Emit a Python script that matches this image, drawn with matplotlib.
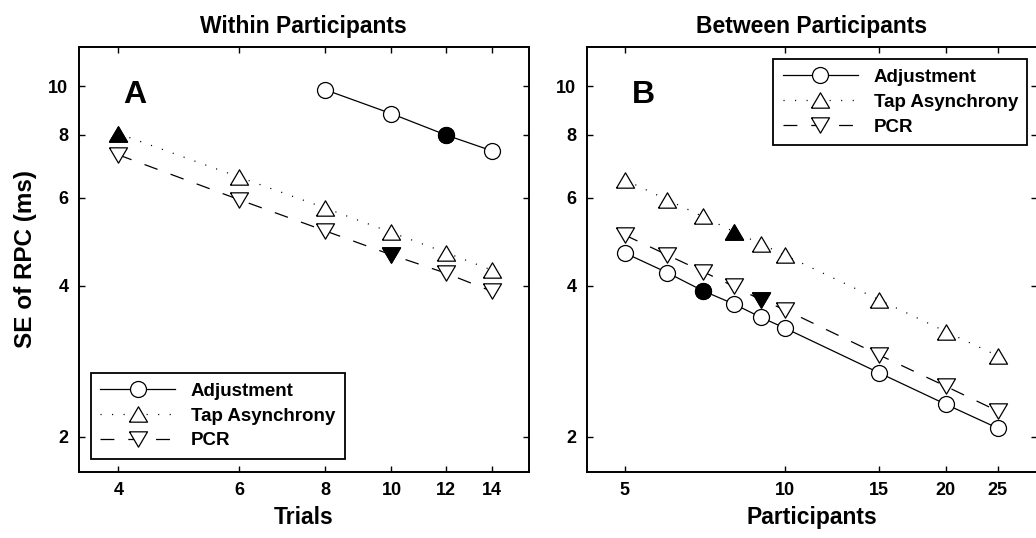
import matplotlib
matplotlib.use("Agg")
import matplotlib.pyplot as plt
from matplotlib.ticker import NullLocator, FixedLocator, FixedFormatter

plt.rcParams['font.family'] = ['Liberation Sans', 'DejaVu Sans']
plt.rcParams['lines.scale_dashes'] = False

# ---------------- data ----------------
# Panel A: Within participants (x = trials)
trials_adj = [8, 10, 12, 14]
se_adj_within = [9.85, 8.82, 8.0, 7.44]
trials_tap = [4, 6, 8, 10, 12, 14]
se_tap_within = [8.05, 6.59, 5.72, 5.11, 4.66, 4.30]
trials_pcr = [4, 6, 8, 10, 12, 14]
se_pcr_within = [7.30, 5.94, 5.15, 4.61, 4.24, 3.90]
# index of highlighted (filled) point in each series
hl_within = {"adj": 2, "tap": 0, "pcr": 3}

# Panel B: Between participants (x = participants)
participants = [5, 6, 7, 8, 9, 10, 15, 20, 25]
se_adj_between = [4.65, 4.25, 3.91, 3.68, 3.46, 3.29, 2.68, 2.32, 2.08]
se_tap_between = [6.51, 5.94, 5.50, 5.13, 4.85, 4.60, 3.75, 3.24, 2.90]
se_pcr_between = [5.05, 4.61, 4.27, 3.99, 3.75, 3.58, 2.91, 2.52, 2.25]
hl_between = {"adj": 2, "tap": 3, "pcr": 4}

series_names = ["Adjustment", "Tap Asynchrony", "PCR"]
titles = ["Within Participants", "Between Participants"]
panel_letters = ["A", "B"]
xlabels = ["Trials", "Participants"]
ylabel = "SE of RPC (ms)"
xticks_A = [4, 6, 8, 10, 12, 14]
xticks_B = [5, 10, 15, 20, 25]
yticks = [2, 4, 6, 8, 10]

# ---------------- styling ----------------
tri_up = [(-1, -0.85), (1, -0.85), (0, 0.85), (-1, -0.85)]
tri_dn = [(-1, 0.85), (1, 0.85), (0, -0.85), (-1, 0.85)]
styles = {
    "adj": dict(ls='-', marker='o', ms=11.5),
    "tap": dict(ls=(0, (0.8, 7.5)), marker=tri_up, ms=13),
    "pcr": dict(ls=(0, (10, 10)), marker=tri_dn, ms=13),
}

W, H = 1036, 538
fig = plt.figure(figsize=(W / 100, H / 100), dpi=100)
axA = fig.add_axes([78.7 / W, 1 - 472 / H, 450 / W, 425.3 / H])
axB = fig.add_axes([586.7 / W, 1 - 472 / H, 450 / W, 425.3 / H])


def draw(ax, data, hl):
    handles = []
    for key, (x, y) in data.items():
        st = styles[key]
        h, = ax.plot(x, y, color='black', lw=0.9, linestyle=st['ls'],
                     marker=st['marker'], ms=st['ms'], mfc='white',
                     mec='black', mew=0.9, zorder=3)
        i = hl[key]
        ax.plot([x[i]], [y[i]], linestyle='none', marker=st['marker'],
                ms=st['ms'], mfc='black', mec='black', mew=0.9, zorder=4)
        handles.append(h)
    return handles


hA = draw(axA, {"adj": (trials_adj, se_adj_within),
                "tap": (trials_tap, se_tap_within),
                "pcr": (trials_pcr, se_pcr_within)}, hl_within)
hB = draw(axB, {"adj": (participants, se_adj_between),
                "tap": (participants, se_tap_between),
                "pcr": (participants, se_pcr_between)}, hl_between)

for ax, xt, xl, tt, xlab, letter in [
        (axA, xticks_A, (3.5, 15.85), titles[0], xlabels[0], panel_letters[0]),
        (axB, xticks_B, (4.24, 29.6), titles[1], xlabels[1], panel_letters[1])]:
    ax.set_xscale('log')
    ax.set_yscale('log')
    ax.set_xlim(*xl)
    ax.set_ylim(1.7, 12.0)
    ax.xaxis.set_major_locator(FixedLocator(xt))
    ax.xaxis.set_major_formatter(FixedFormatter([str(v) for v in xt]))
    ax.yaxis.set_major_locator(FixedLocator(yticks))
    ax.yaxis.set_major_formatter(FixedFormatter([str(v) for v in yticks]))
    ax.xaxis.set_minor_locator(NullLocator())
    ax.yaxis.set_minor_locator(NullLocator())
    ax.tick_params(which='major', direction='in', length=4, width=1,
                   top=True, right=True, pad=7.5)
    for lab in ax.get_xticklabels() + ax.get_yticklabels():
        lab.set_fontsize(13)
        lab.set_fontweight('bold')
    for sp in ax.spines.values():
        sp.set_linewidth(1.4)
    ax.set_title(tt, fontsize=16.5, fontweight='bold', pad=10)
    ax.set_xlabel(xlab, fontsize=16.5, fontweight='bold', labelpad=5)
    ax.text(0.10, 0.868, letter, transform=ax.transAxes, fontsize=23,
            fontweight='bold', ha='left', va='baseline')

axA.set_ylabel(ylabel, fontsize=17.5, fontweight='bold', labelpad=8)

legkw = dict(loc='upper left', borderaxespad=0, fancybox=False,
             edgecolor='black', framealpha=1, handlelength=4.0,
             handletextpad=0.85, borderpad=0.5, labelspacing=0.41,
             numpoints=1, prop=dict(size=13.5, weight='bold'))
legA = axA.legend(hA, series_names, bbox_to_anchor=(0.0267, 0.232), **legkw)
legB = axB.legend(hB, series_names, bbox_to_anchor=(0.4147, 0.970), **legkw)
for lg in (legA, legB):
    lg.get_frame().set_linewidth(1.3)

fig.savefig("out.png", dpi=100)
